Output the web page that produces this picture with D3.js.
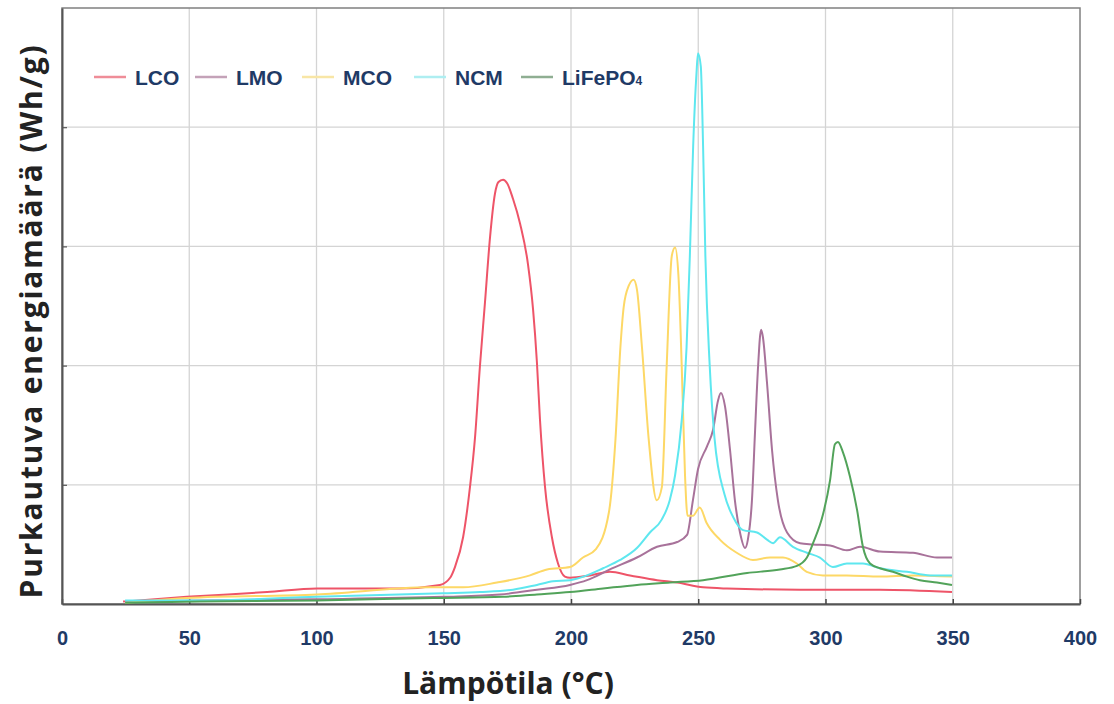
<!DOCTYPE html>
<html>
<head>
<meta charset="utf-8">
<script src="https://cdn.jsdelivr.net/npm/d3@7"></script>
<style>
  html, body { margin: 0; padding: 0; background: #fff; }
  #chart { width: 1114px; height: 704px; }
</style>
</head>
<body>
<div id="chart"></div>
<script>
// Discharged energy vs temperature for five cathode materials
// x = temperature (°C), y = energy in gridline units (no y tick labels in original)

var xTicks = [0, 50, 100, 150, 200, 250, 300, 350, 400];
var yGrid = [1, 2, 3, 4];

var seriesNames = ["LCO", "LMO", "MCO", "NCM", "LiFePO4"];
var seriesColors = ["#ee5468", "#a8729a", "#fdd866", "#5ee7ef", "#52a35a"];
var legendColors = ["#ef8d98", "#c4a2b8", "#f8e6a6", "#aeeef1", "#8fae92"];

var lcoT = [24, 49, 80.6, 100.2, 132.8, 148.5, 152.5, 154.4, 157.6, 160.3, 162.3, 164.2, 166.2, 168.2, 170.1, 171.5, 173.3, 174.9, 177.2, 180, 183.1, 185.1, 186.6, 187.8, 189.8, 192.5, 194.9, 197.6, 199.6, 207.5, 215.3, 223.2, 233.8, 241.7, 251.9, 261.3, 290, 321.4, 349.7];
var lcoV = [0.02, 0.06, 0.10, 0.13, 0.13, 0.16, 0.22, 0.31, 0.56, 0.98, 1.40, 1.99, 2.53, 3.08, 3.44, 3.54, 3.56, 3.53, 3.40, 3.19, 2.85, 2.47, 2.03, 1.55, 0.98, 0.56, 0.34, 0.23, 0.22, 0.24, 0.27, 0.24, 0.20, 0.18, 0.14, 0.13, 0.12, 0.12, 0.10];

var lmoT = [24.8, 54.2, 100.2, 149.7, 172.1, 186.6, 199.6, 206.3, 215.3, 225.9, 233.8, 241.7, 245.6, 247.9, 249.9, 253.4, 255.8, 257.8, 258.9, 260.5, 262.5, 264.4, 266.4, 268.4, 269.5, 271.1, 272.3, 273.5, 274.7, 275.4, 277, 279, 281.3, 284.9, 290, 295.1, 301.8, 308.4, 313.6, 321.4, 334.4, 343.8, 349.7];
var lmoV = [0.02, 0.03, 0.04, 0.06, 0.08, 0.12, 0.16, 0.20, 0.29, 0.39, 0.48, 0.52, 0.58, 0.87, 1.13, 1.32, 1.46, 1.71, 1.77, 1.66, 1.29, 0.87, 0.60, 0.47, 0.54, 0.87, 1.44, 1.99, 2.30, 2.24, 1.86, 1.29, 0.87, 0.60, 0.51, 0.50, 0.49, 0.45, 0.48, 0.44, 0.43, 0.39, 0.39];

var mcoT = [24.8, 49.1, 100.2, 144.6, 157.6, 170.9, 183.9, 190.6, 199.6, 204.7, 209.8, 214.9, 217.5, 219.4, 220.7, 222.7, 224.6, 225.9, 227.9, 230.5, 233.7, 235.7, 237.6, 239.6, 240.9, 242.2, 243.5, 244.8, 245.8, 247.9, 250.6, 253.3, 258.5, 265.1, 271.5, 278.2, 283.3, 288.7, 292.6, 299, 308.4, 321.4, 334.4, 349.7];
var mcoV = [0.01, 0.05, 0.08, 0.14, 0.14, 0.18, 0.24, 0.29, 0.31, 0.39, 0.46, 0.77, 1.39, 2.15, 2.49, 2.67, 2.72, 2.64, 2.15, 1.39, 0.87, 0.98, 2.00, 2.92, 2.99, 2.76, 2.00, 1.08, 0.74, 0.74, 0.81, 0.68, 0.54, 0.43, 0.37, 0.39, 0.39, 0.34, 0.27, 0.24, 0.24, 0.23, 0.24, 0.23];

var ncmT = [24.8, 54.2, 100.2, 149.7, 164.2, 177.2, 186.6, 192.9, 199.6, 206.3, 212.6, 219.3, 225.9, 231, 235.7, 238.8, 240.9, 243.5, 245.4, 246.7, 248, 249.3, 249.9, 251, 251.9, 252.8, 254.5, 256.4, 260.3, 263.7, 267.6, 273.1, 277, 279.4, 282.1, 287.2, 292.7, 297.8, 302.9, 308.4, 314.7, 321.4, 332, 341.1, 349.7];
var ncmV = [0.03, 0.03, 0.06, 0.09, 0.10, 0.12, 0.16, 0.19, 0.20, 0.24, 0.30, 0.37, 0.47, 0.60, 0.71, 0.87, 1.08, 1.54, 2.15, 2.92, 3.84, 4.45, 4.62, 4.51, 3.84, 2.92, 2.00, 1.39, 0.92, 0.73, 0.62, 0.60, 0.54, 0.51, 0.56, 0.48, 0.43, 0.39, 0.31, 0.34, 0.34, 0.30, 0.27, 0.24, 0.24];

var lfpT = [24.8, 54.2, 100.2, 145.8, 173.3, 186.6, 199.6, 212.6, 225.9, 238.9, 251.9, 269.2, 282.1, 288.8, 292.7, 295.1, 299, 301.8, 303.7, 304.9, 306.9, 309.6, 312.4, 314.7, 317.5, 321.4, 326.5, 332, 337.1, 343.8, 349.7];
var lfpV = [0.01, 0.02, 0.03, 0.05, 0.06, 0.08, 0.10, 0.13, 0.16, 0.18, 0.20, 0.26, 0.29, 0.32, 0.39, 0.51, 0.75, 1.04, 1.34, 1.36, 1.27, 1.07, 0.79, 0.48, 0.34, 0.30, 0.27, 0.23, 0.20, 0.18, 0.16];

var seriesT = [lcoT, lmoT, mcoT, ncmT, lfpT];
var seriesV = [lcoV, lmoV, mcoV, ncmV, lfpV];

var totalW = 1114, totalH = 704;
var margin = { top: 8, right: 34, bottom: 100, left: 62 };
var width = totalW - margin.left - margin.right;
var height = totalH - margin.top - margin.bottom;

var svg = d3.select("#chart").append("svg")
    .attr("width", totalW)
    .attr("height", totalH);

var g = svg.append("g")
    .attr("transform", "translate(" + margin.left + "," + margin.top + ")");

var x = d3.scaleLinear().domain([0, 400]).range([0, width]);
var y = d3.scaleLinear().domain([0, 5]).range([height, 0]);

// --- Grid lines ---
g.append("g")
    .selectAll("line.vg")
    .data(xTicks.slice(1, -1))
    .join("line")
    .attr("x1", function(d) { return x(d); })
    .attr("x2", function(d) { return x(d); })
    .attr("y1", 0)
    .attr("y2", height)
    .style("stroke", "#d4d4d4")
    .style("stroke-width", 1.3);

g.append("g")
    .selectAll("line.hg")
    .data(yGrid)
    .join("line")
    .attr("x1", 0)
    .attr("x2", width)
    .attr("y1", function(d) { return y(d); })
    .attr("y2", function(d) { return y(d); })
    .style("stroke", "#d4d4d4")
    .style("stroke-width", 1.3);

// --- Frame ---
g.append("rect")
    .attr("width", width)
    .attr("height", height)
    .style("fill", "none")
    .style("stroke", "#808080")
    .style("stroke-width", 1.5);

// --- Bottom axis ticks (inward) and labels ---
var xAxis = g.append("g")
    .attr("transform", "translate(0," + height + ")")
    .call(d3.axisBottom(x).tickValues(xTicks).tickSizeInner(-5).tickSizeOuter(0).tickPadding(27));
xAxis.select(".domain").style("stroke", "#555").style("stroke-width", 2);
xAxis.selectAll(".tick line").style("stroke", "#444").style("stroke-width", 1.5);
xAxis.selectAll("text")
    .style("font-family", "'Liberation Sans', Arial, sans-serif")
    .style("font-size", "20px")
    .style("font-weight", "bold")
    .style("fill", "#1f3a66");

// --- Left axis ticks (inward, no labels) ---
var yAxis = g.append("g")
    .call(d3.axisLeft(y).tickValues(yGrid).tickSizeInner(-5).tickSizeOuter(0).tickFormat(""));
yAxis.select(".domain").style("stroke", "#555").style("stroke-width", 2);
yAxis.selectAll(".tick line").style("stroke", "#555").style("stroke-width", 1.2);

// --- Lines ---
var line = d3.line()
    .curve(d3.curveMonotoneX)
    .x(function(d) { return x(d[0]); })
    .y(function(d) { return y(d[1]); });

seriesNames.forEach(function(name, i) {
    var pts = seriesT[i].map(function(t, j) { return [t, seriesV[i][j]]; });
    g.append("path")
        .datum(pts)
        .attr("fill", "none")
        .attr("stroke", seriesColors[i])
        .attr("stroke-width", 2)
        .attr("stroke-linejoin", "round")
        .attr("d", line);
});

// --- Legend ---
var legendX = [94, 195, 302, 414, 521];
var legend = svg.append("g");
seriesNames.forEach(function(name, i) {
    legend.append("line")
        .attr("x1", legendX[i])
        .attr("x2", legendX[i] + 32)
        .attr("y1", 77)
        .attr("y2", 77)
        .style("stroke", legendColors[i])
        .style("stroke-width", 2.5);
    var t = legend.append("text")
        .attr("x", legendX[i] + 41)
        .attr("y", 85)
        .style("font-family", "'Liberation Sans', Arial, sans-serif")
        .style("font-size", "21px")
        .style("font-weight", "bold")
        .style("fill", "#1f3a66");
    if (name === "LiFePO4") {
        t.append("tspan").text("LiFePO");
        t.append("tspan").style("font-size", "12px").text("4");
    } else {
        t.text(name);
    }
});

// --- Axis titles ---
svg.append("text")
    .attr("x", 508)
    .attr("y", 694)
    .attr("text-anchor", "middle")
    .style("font-family", "'Open Sans', sans-serif")
    .style("font-size", "30px")
    .style("font-weight", "bold")
    .style("fill", "#222")
    .text("Lämpötila (°C)");

svg.append("text")
    .attr("transform", "translate(42," + 321 + ") rotate(-90)")
    .attr("text-anchor", "middle")
    .style("font-family", "'Open Sans', sans-serif")
    .style("font-size", "30px")
    .style("font-weight", "bold")
    .style("letter-spacing", "1.8px")
    .style("fill", "#222")
    .text("Purkautuva energiamäärä (Wh/g)");
</script>
</body>
</html>
